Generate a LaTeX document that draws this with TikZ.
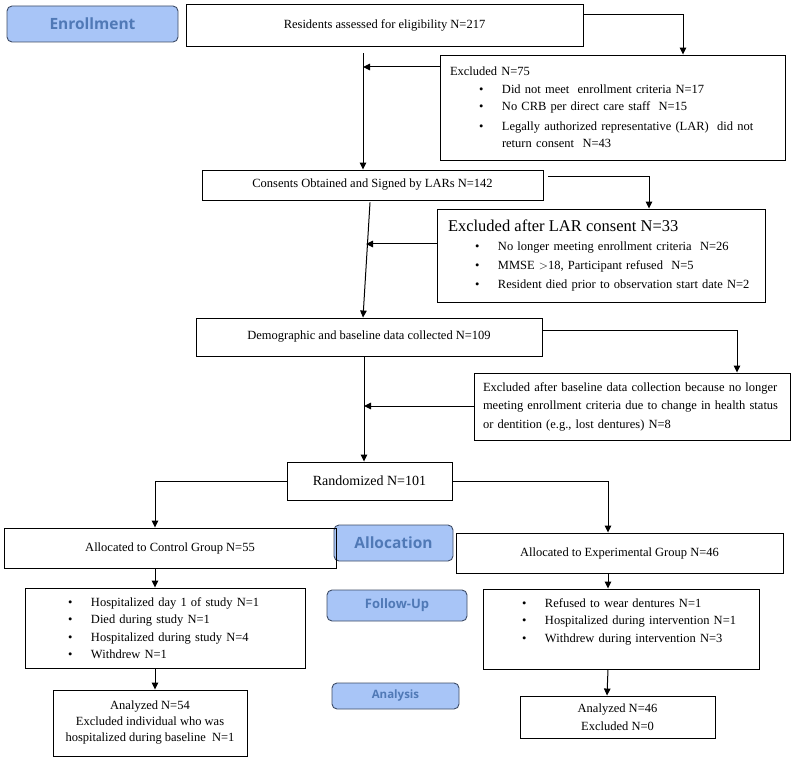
\documentclass[tikz,border=0pt]{standalone}
\usepackage{fontspec}
\setmainfont{Liberation Serif}
\newfontfamily\stagefont{Open Sans}
\usetikzlibrary{arrows.meta}

\definecolor{stagefill}{HTML}{A8C5F7}
\definecolor{stagetext}{HTML}{5079B6}
\definecolor{stageline}{HTML}{3E4C66}

\tikzset{
  box/.style={draw, line width=.9pt, inner ysep=0pt, inner xsep=10pt,
    font=\fontsize{12.5}{17.5}\selectfont},
  stage/.style={draw=stageline, fill=stagefill, text=stagetext, line width=.9pt,
    rounded corners=5pt, inner sep=0pt, font=\stagefont\bfseries},
  arr/.style={line width=1pt, -{Triangle[length=7pt,width=6.5pt]}},
}
\newcommand{\itm}[2]{\hspace*{#1}\makebox[23pt][l]{\textbullet}#2}

\begin{document}
\begin{tikzpicture}[x=1pt,y=-1pt]
\useasboundingbox (0,0) rectangle (798,762);

% phases
\node[stage, minimum width=171pt, minimum height=36pt, font=\stagefont\bfseries\fontsize{15.5}{18}\selectfont] (enr) at (92.5,24) {Enrollment};
\node[stage, minimum width=119pt, minimum height=36pt, font=\stagefont\bfseries\fontsize{15.5}{18}\selectfont] (alloc) at (393.5,543) {Allocation};
\node[stage, minimum width=140pt, minimum height=31pt, font=\stagefont\bfseries\fontsize{13}{15}\selectfont] (fu) at (397,605.5) {Follow-Up};
\node[stage, minimum width=127pt, minimum height=26pt, font=\stagefont\bfseries\fontsize{11.5}{14}\selectfont] (ana) at (395.5,696) {Analysis};

% enrollment
\node[box, minimum width=397pt, minimum height=42pt] (res) at (384.5,25) {Residents assessed for eligibility N=217};
\node[box, minimum height=105pt, text width=325pt, align=left] (exc1) at (612.5,107.5)
  {Excluded N=75\\
   \itm{29pt}{Did not meet \ enrollment criteria N=17}\\
   \itm{29pt}{No CRB per direct care staff \ N=15}\\[2pt]
   \itm{29pt}{Legally authorized representative (LAR) \ did not}\\
   \hspace*{52pt}return consent \ N=43};
\node[box, minimum width=341pt, minimum height=30pt] (cons) at (372.5,185) {Consents Obtained and Signed by LARs N=142};
\node[box, minimum height=93pt, inner xsep=11pt, text width=306pt, align=left,
  font=\fontsize{12.5}{19}\selectfont] (exc2) at (601,255.5)
  {{\fontsize{16.5}{19}\selectfont Excluded after LAR consent N=33}\\
   \itm{27pt}{No longer meeting enrollment criteria \ N=26}\\
   \itm{27pt}{MMSE $>$18, Participant refused \ N=5}\\
   \itm{27pt}{Resident died prior to observation start date N=2}};
\node[box, minimum width=346pt, minimum height=38pt] (demo) at (369,337) {Demographic and baseline data collected N=109};
\node[box, minimum height=67pt, inner xsep=9pt, text width=298pt, align=left,
  font=\fontsize{12.5}{18.5}\selectfont] (exc3) at (632,406.5)
  {Excluded after baseline data collection because no longer
   meeting enrollment criteria due to change in health status
   or dentition (e.g., lost dentures) N=8};
\node[box, minimum width=165pt, minimum height=38pt, font=\fontsize{14}{17}\selectfont] (rand) at (369.5,481) {Randomized N=101};

% allocation
\node[box, minimum width=332pt, minimum height=40pt] (ctrl) at (170,548) {Allocated to Control Group N=55};
\node[box, minimum width=327pt, minimum height=40pt] (expt) at (619.5,553) {Allocated to Experimental Group N=46};

% follow-up
\node[box, minimum height=80pt, text width=260pt, align=left] (cfu) at (165,628)
  {\itm{33pt}{Hospitalized day 1 of study N=1}\\
   \itm{33pt}{Died during study N=1}\\
   \itm{33pt}{Hospitalized during study N=4}\\
   \itm{33pt}{Withdrew N=1}};
\node[box, minimum height=80pt, text width=256pt, align=left] (efu) at (621,629)
  {\itm{29pt}{Refused to wear dentures N=1}\\
   \itm{29pt}{Hospitalized during intervention N=1}\\
   \itm{29pt}{Withdrew during intervention N=3}\\
   \mbox{}};

% analysis
\node[box, minimum width=194pt, minimum height=66pt, align=center,
  font=\fontsize{12.5}{16}\selectfont] (can) at (150,723)
  {Analyzed N=54\\Excluded individual who was\\hospitalized during baseline \ N=1};
\node[box, minimum width=195pt, minimum height=42pt, align=center,
  font=\fontsize{12.5}{18}\selectfont] (ean) at (617.5,717)
  {Analyzed N=46\\Excluded N=0};

% joints on the main line
\coordinate (j1) at (363,67);
\coordinate (j2) at (366,244);
\coordinate (j3) at (364,406);

\draw[arr] ([yshift=10pt]res.east) -| ([xshift=70.5pt]exc1.north);
\draw[arr] ([xshift=-21.5pt,yshift=-7pt]res.south) -- ([xshift=-9.5pt]cons.north);
\draw[arr] (exc1.west |- j1) -- (j1);

\draw[arr] ([xshift=5pt,yshift=8pt]cons.east) -| ([xshift=48pt]exc2.north);
\draw[arr] ([xshift=-2.5pt,yshift=-2pt]cons.south) -- ([xshift=-6pt]demo.north);
\draw[arr] (exc2.west |- j2) -- (j2);

\draw[arr] ([yshift=7pt]demo.east) -| ([xshift=105pt]exc3.north);
\draw[arr] ([xshift=-5pt]demo.south) -- ([xshift=-5.5pt]rand.north);
\draw[arr] (exc3.west |- j3) -- (j3);

\draw[arr] (rand.west) -| ([xshift=-15pt]ctrl.north);
\draw[arr] (rand.east) -| ([xshift=-11.5pt]expt.north);

\draw[arr] ([xshift=-15pt]ctrl.south) -- ([xshift=-10pt]cfu.north);
\draw[arr] ([xshift=-11.5pt]expt.south) -- ([xshift=-13pt]efu.north);
\draw[arr] ([xshift=-10pt]cfu.south) -- ([xshift=5pt]can.north);
\draw[arr] ([xshift=-13pt]efu.south) -- ([xshift=-10.5pt]ean.north);
\end{tikzpicture}
\end{document}
